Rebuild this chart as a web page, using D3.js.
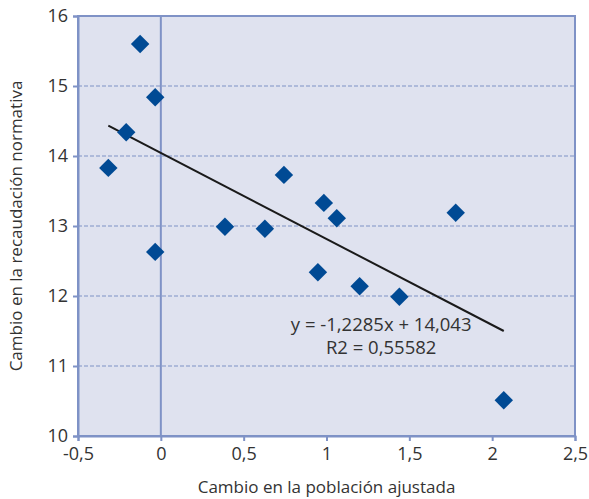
<!DOCTYPE html>
<html>
<head>
<meta charset="utf-8">
<script src="https://cdn.jsdelivr.net/npm/d3@7"></script>
<style>
  body { margin: 0; background: #fff; }
  text { font-family: "Open Sans", "DejaVu Sans", sans-serif; fill: #333; }
</style>
</head>
<body>
<div class="canvas"></div>
<script>
// data
const xValues = [-0.317, -0.209, -0.125, -0.034, -0.034, 0.387, 0.628, 0.743, 0.984, 1.062, 0.948, 1.2, 1.44, 1.78, 2.07];
const yValues = [13.83, 14.34, 15.6, 14.84, 12.63, 12.99, 12.96, 13.73, 13.33, 13.11, 12.34, 12.14, 11.99, 13.19, 10.51];
const xTicks = [-0.5, 0, 0.5, 1, 1.5, 2, 2.5];
const yTicks = [10, 11, 12, 13, 14, 15, 16];
const trend = { slope: -1.2285, intercept: 14.043 };
const trendLabels = ['y = -1,2285x + 14,043', 'R2 = 0,55582'];

const width = 589, height = 499;
const margin = { top: 16, right: 14, bottom: 63, left: 78 };

const svg = d3.select('.canvas')
    .append('svg')
    .attr('width', width)
    .attr('height', height);

const x = d3.scaleLinear().domain([-0.5, 2.5]).range([margin.left, width - margin.right]);
const y = d3.scaleLinear().domain([10, 16]).range([height - margin.bottom, margin.top]);

const axisColour = '#7f92c6';
const fmt = d => String(d).replace('.', ',');

// plot background
svg.append('rect')
    .attr('x', x(-0.5)).attr('y', y(16))
    .attr('width', x(2.5) - x(-0.5)).attr('height', y(10) - y(16))
    .attr('fill', '#dfe2ef')
    .attr('stroke', axisColour)
    .attr('stroke-width', 2);

// dashed gridlines
svg.selectAll('.grid')
    .data(yTicks.filter(d => d > 10 && d < 16))
    .enter().append('line')
    .attr('x1', x(-0.5)).attr('x2', x(2.5))
    .attr('y1', d => y(d)).attr('y2', d => y(d))
    .attr('stroke', axisColour)
    .attr('stroke-width', 1.2)
    .attr('stroke-dasharray', '4,2');

// vertical line at zero
svg.append('line')
    .attr('x1', x(0)).attr('x2', x(0))
    .attr('y1', y(16)).attr('y2', y(10))
    .attr('stroke', axisColour)
    .attr('stroke-width', 2);

const xAxis = svg.append('g')
    .attr('transform', `translate(0,${y(10)})`)
    .call(d3.axisBottom(x).tickValues(xTicks).tickFormat(fmt).tickSize(5).tickPadding(6));
const yAxis = svg.append('g')
    .attr('transform', `translate(${x(-0.5)},0)`)
    .call(d3.axisLeft(y).tickValues(yTicks).tickFormat(fmt).tickSize(5).tickPadding(5));

[xAxis, yAxis].forEach(a => {
    a.select('.domain').attr('stroke', axisColour).attr('stroke-width', 2);
    a.selectAll('.tick line').attr('stroke', axisColour).attr('stroke-width', 2);
    a.selectAll('.tick text').style('font-size', '18px').attr('fill', '#333');
});

// trend line over the data's x range
const xExt = d3.extent(xValues);
svg.append('line')
    .attr('x1', x(xExt[0])).attr('y1', y(trend.slope * xExt[0] + trend.intercept))
    .attr('x2', x(xExt[1])).attr('y2', y(trend.slope * xExt[1] + trend.intercept))
    .attr('stroke', '#1a1a1a')
    .attr('stroke-width', 2);

// diamonds
const diamond = d3.symbol().type(d3.symbolSquare).size(170);
svg.selectAll('.pt')
    .data(xValues.map((d, i) => [d, yValues[i]]))
    .enter().append('path')
    .attr('d', diamond)
    .attr('transform', d => `translate(${x(d[0])},${y(d[1])}) rotate(45)`)
    .attr('fill', '#004a94');

// equation labels
svg.selectAll('.eq')
    .data(trendLabels)
    .enter().append('text')
    .attr('x', x(1.33))
    .attr('y', (d, i) => y(11.5) + i * 23)
    .attr('text-anchor', 'middle')
    .style('font-size', '18.5px')
    .text(d => d);

// axis titles
svg.append('text')
    .attr('x', (x(-0.5) + x(2.5)) / 2)
    .attr('y', 493)
    .attr('text-anchor', 'middle')
    .style('font-size', '17px')
    .text('Cambio en la población ajustada');

svg.append('text')
    .attr('transform', `translate(22,${(y(10) + y(16)) / 2}) rotate(-90)`)
    .attr('text-anchor', 'middle')
    .style('font-size', '17px')
    .text('Cambio en la recaudación normativa');
</script>
</body>
</html>
